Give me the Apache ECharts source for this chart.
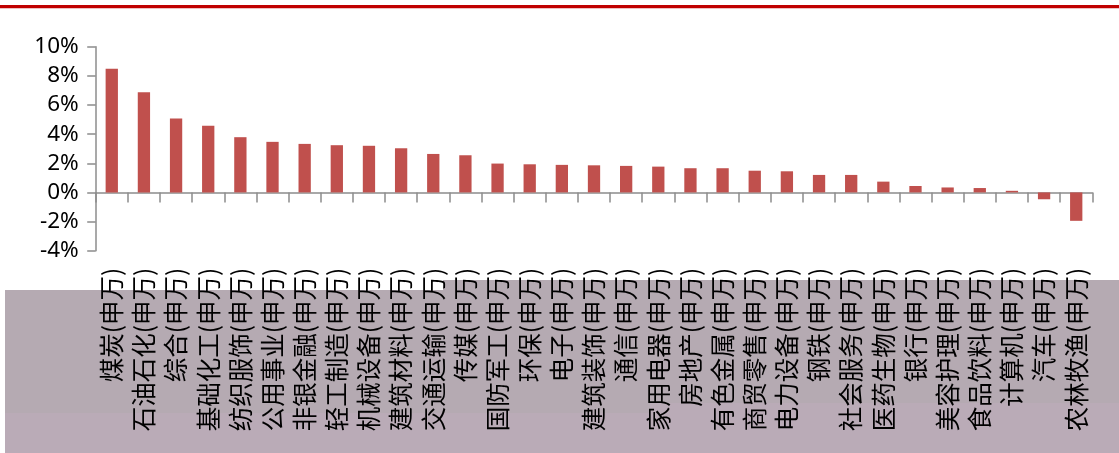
<!DOCTYPE html>
<html>
<head>
<meta charset="utf-8">
<script src="https://cdn.jsdelivr.net/npm/echarts@6/dist/echarts.min.js"></script>
<style>
html,body{margin:0;padding:0;background:#fff;}
#chart{width:1119px;height:453px;}
</style>
</head>
<body>
<div id="chart"></div>
<script>
const categories = ["煤炭(申万)","石油石化(申万)","综合(申万)","基础化工(申万)","纺织服饰(申万)","公用事业(申万)","非银金融(申万)","轻工制造(申万)","机械设备(申万)","建筑材料(申万)","交通运输(申万)","传媒(申万)","国防军工(申万)","环保(申万)","电子(申万)","建筑装饰(申万)","通信(申万)","家用电器(申万)","房地产(申万)","有色金属(申万)","商贸零售(申万)","电力设备(申万)","钢铁(申万)","社会服务(申万)","医药生物(申万)","银行(申万)","美容护理(申万)","食品饮料(申万)","计算机(申万)","汽车(申万)","农林牧渔(申万)"];
const values = [8.48,6.87,5.08,4.57,3.79,3.47,3.33,3.24,3.20,3.03,2.64,2.55,1.98,1.93,1.89,1.86,1.82,1.77,1.66,1.66,1.49,1.45,1.20,1.20,0.74,0.44,0.34,0.30,0.11,-0.47,-1.95];
const yTicks = {min:-4, max:10, interval:2};

const chart = echarts.init(document.getElementById('chart'), null, {renderer:'canvas'});
const axisGray = '#8c8c8c';
const upper = '#b5aab2', lower = '#baabb7';
chart.setOption({
  animation:false,
  backgroundColor:'#ffffff',
  graphic:[
    {type:'line', z:-1, shape:{x1:0,y1:6.7,x2:1119,y2:6.7}, style:{stroke:'#c00000',lineWidth:3.3}},
    {type:'rect', z:-1, shape:{x:5,y:290,width:438,height:123}, style:{fill:upper}},
    {type:'rect', z:-1, shape:{x:443,y:280,width:207,height:133}, style:{fill:upper}},
    {type:'rect', z:-1, shape:{x:650,y:280,width:469,height:123}, style:{fill:upper}},
    {type:'rect', z:-1, shape:{x:5,y:413,width:645,height:40}, style:{fill:lower}},
    {type:'rect', z:-1, shape:{x:650,y:403,width:469,height:50}, style:{fill:lower}}
  ],
  grid:{left:95.7, right:26.7, top:46.7, bottom:202.3, containLabel:false},
  xAxis:[
    {type:'category', data:categories, position:'bottom',
     axisLine:{onZero:true, lineStyle:{color:axisGray,width:1.5}},
     axisTick:{show:true, interval:0, length:10, lineStyle:{color:axisGray,width:1.5}},
     axisLabel:{show:false}, splitLine:{show:false}},
    {type:'category', data:categories, position:'bottom',
     axisLine:{show:false, onZero:false}, axisTick:{show:false},
     axisLabel:{interval:0, rotate:90, margin:17, fontSize:24.5, color:'#000',
       padding:[6,0,0,0],
       fontFamily:'"Noto Sans CJK SC", sans-serif'},
     splitLine:{show:false}}
  ],
  yAxis:{type:'value', min:yTicks.min, max:yTicks.max, interval:yTicks.interval,
    axisLine:{show:true, lineStyle:{color:axisGray,width:1.5}},
    axisTick:{show:true, length:8.5, lineStyle:{color:axisGray,width:1.5}},
    splitLine:{show:false},
    axisLabel:{formatter:'{value}%', fontSize:22.5, margin:17, color:'#000',
      fontFamily:'"Noto Sans", "Open Sans", sans-serif'}},
  series:[{type:'bar', xAxisIndex:0, data:values, barWidth:12.3,
    itemStyle:{color:'#c0504d'}}]
});
</script>
</body>
</html>
